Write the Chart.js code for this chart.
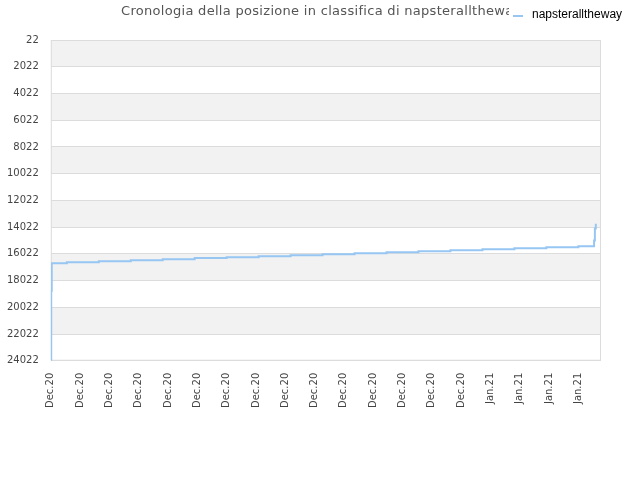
<!DOCTYPE html>
<html>
<head>
<meta charset="utf-8">
<script src="https://cdn.jsdelivr.net/npm/chart.js@4"></script>
<style>
  html, body { margin: 0; padding: 0; background: #ffffff; }
  #wrap { width: 640px; height: 480px; }
</style>
</head>
<body>
<div id="wrap"><canvas id="rankChart" width="640" height="480"></canvas></div>
<script>
'use strict';

// ── Chart data ────────────────────────────────────────────────────────────
const TITLE = 'Cronologia della posizione in classifica di napsteralltheway';
const SERIES_NAME = 'napsteralltheway';

// hours since the first sample, and the ranking at that moment
const rankHours = [0, 0.3, 0.7, 12, 36, 60, 84, 108, 132, 156, 180, 204, 228,
    252, 276, 300, 324, 348, 372, 396, 407.8, 408.4, 409.1];
const rankValues = [23990, 18780, 16732, 16657, 16582, 16507, 16432, 16342, 16275,
    16207, 16132, 16057, 15982, 15907, 15832, 15750, 15675, 15600, 15525, 15450,
    15020, 14120, 13770];

// x tick labels and where they sit (hours)
const xTickHours = [0, 22, 44, 66, 88, 110, 132, 154, 176, 198, 220, 242, 264,
    286, 308, 330, 352, 374, 396];
const xTickLabels = ['Dec.20', 'Dec.20', 'Dec.20', 'Dec.20', 'Dec.20', 'Dec.20',
    'Dec.20', 'Dec.20', 'Dec.20', 'Dec.20', 'Dec.20', 'Dec.20', 'Dec.20', 'Dec.20',
    'Dec.20', 'Jan.21', 'Jan.21', 'Jan.21', 'Jan.21'];
const X_MAX = 413;

// y ticks (rank axis, reversed)
const yTicks = [22, 2022, 4022, 6022, 8022, 10022, 12022, 14022, 16022, 18022,
    20022, 22022, 24022];

// ── Styling ────────────────────────────────────────────────────────────────
const LINE_COLOR = '#97c6f3';
const GRID_COLOR = '#dcdcdc';
const BAND_COLOR = '#f2f2f2';
const FONT = 'DejaVu Sans';

// alternating horizontal bands behind the plot + frame
const bandsPlugin = {
    id: 'bands',
    beforeDraw(chart) {
        const { ctx, chartArea } = chart;
        const y = chart.scales.y;
        ctx.save();
        for (let i = 0; i < yTicks.length - 1; i++) {
            if (i % 2 !== 0) continue;
            const y0 = y.getPixelForValue(yTicks[i]);
            const y1 = y.getPixelForValue(yTicks[i + 1]);
            ctx.fillStyle = BAND_COLOR;
            ctx.fillRect(chartArea.left, y0, chartArea.right - chartArea.left, y1 - y0);
        }
        ctx.restore();
    },
    beforeDatasetsDraw(chart) {
        const { ctx, chartArea } = chart;
        ctx.save();
        ctx.strokeStyle = GRID_COLOR;
        ctx.lineWidth = 1;
        ctx.strokeRect(chartArea.left + 0.5, chartArea.top + 0.5,
            chartArea.right - chartArea.left - 1, chartArea.bottom - chartArea.top - 1);
        ctx.restore();
    },
};

// title and legend share the top row, legend box covers the title's tail
const headerPlugin = {
    id: 'header',
    afterDraw(chart) {
        const ctx = chart.ctx;
        ctx.save();
        ctx.font = '13px "' + FONT + '"';
        ctx.letterSpacing = '0.3px';
        ctx.fillStyle = '#555555';
        ctx.textAlign = 'left';
        ctx.textBaseline = 'middle';
        ctx.fillText(TITLE, 121, 12);
        ctx.letterSpacing = '0px';

        ctx.fillStyle = '#ffffff';
        ctx.fillRect(509, 2, 131, 22);
        ctx.strokeStyle = LINE_COLOR;
        ctx.lineWidth = 2;
        ctx.beginPath();
        ctx.moveTo(513, 16);
        ctx.lineTo(523, 16);
        ctx.stroke();
        ctx.font = '12px "Liberation Sans"';
        ctx.fillStyle = '#000000';
        ctx.textAlign = 'left';
        ctx.fillText(SERIES_NAME, 532, 15);
        ctx.restore();
    },
};

const points = rankHours.map((h, i) => ({ x: h, y: rankValues[i] }));

new Chart(document.getElementById('rankChart'), {
    type: 'line',
    data: {
        datasets: [{
            label: SERIES_NAME,
            data: points,
            borderColor: LINE_COLOR,
            borderWidth: 2,
            pointRadius: 0,
            stepped: 'before',
            fill: false,
        }],
    },
    options: {
        responsive: false,
        animation: false,
        devicePixelRatio: 1,
        layout: { padding: { top: 40, right: 39, bottom: 68, left: -5 } },
        plugins: {
            legend: { display: false },
            title: { display: false },
            tooltip: { enabled: false },
        },
        scales: {
            x: {
                type: 'linear',
                min: 0,
                max: X_MAX,
                afterBuildTicks(scale) {
                    scale.ticks = xTickHours.map(v => ({ value: v }));
                },
                ticks: {
                    autoSkip: false,
                    minRotation: 90,
                    maxRotation: 90,
                    padding: 4,
                    color: '#444444',
                    font: { family: FONT, size: 10 },
                    callback: (v, i) => xTickLabels[i],
                },
                grid: { display: false },
                border: { display: false },
            },
            y: {
                type: 'linear',
                reverse: true,
                min: yTicks[0],
                max: yTicks[yTicks.length - 1],
                afterBuildTicks(scale) {
                    scale.ticks = yTicks.map(v => ({ value: v }));
                },
                ticks: {
                    padding: 12,
                    color: '#444444',
                    font: { family: FONT, size: 10 },
                    callback: v => String(v),
                },
                grid: { color: GRID_COLOR, drawTicks: false },
                border: { display: false },
            },
        },
    },
    plugins: [bandsPlugin, headerPlugin],
});
</script>
</body>
</html>
